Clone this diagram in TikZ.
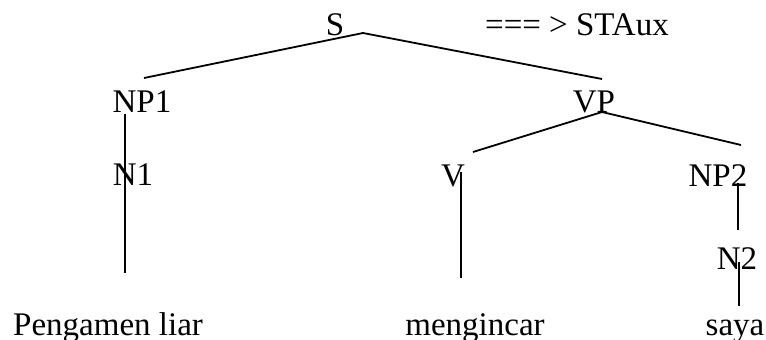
\documentclass[tikz,border=0pt]{standalone}
\usepackage{fontspec}
\setmainfont{Liberation Serif}
\usetikzlibrary{positioning}

\begin{document}
\begin{tikzpicture}[x=1pt,y=-1pt,
    lbl/.style={inner sep=0pt,anchor=base,font=\fontsize{33}{39}\selectfont},
    branch/.style={line width=1.8pt}]
    \useasboundingbox (0,0) rectangle (766,340);

    % Root and transformation label
    \node[lbl] (s) at (335,35) {S};
    \node[lbl,anchor=base east] (aux) at (669,35) {=== > STAux};

    % Phrases
    \node[lbl] (np1) at (142,112) {NP1};
    \node[lbl] (vp) at (594,112) {VP};
    \node[lbl] (n1) at (133,185) {N1};
    \node[lbl] (v) at (453,186) {V};
    \node[lbl] (np2) at (718,186) {NP2};
    \node[lbl] (n2) at (737,269) {N2};

    % Words
    \node[lbl,anchor=base west] (w1) at (13,335) {Pengamen liar};
    \node[lbl] (w2) at (475,335) {mengincar};
    \node[lbl] (w3) at (735,335) {saya};

    % Branch ends
    \coordinate (s-foot) at (363,33);
    \coordinate (np1-head) at (144,78);
    \coordinate (vp-head) at (602,79);
    \coordinate (vp-foot) at (602,112);
    \coordinate (v-head) at (473,152);
    \coordinate (np2-head) at (741,145);
    \coordinate (np1-foot) at (125,114);
    \coordinate (w1-head) at (125,273);
    \coordinate (v-foot) at (461,172);
    \coordinate (w2-head) at (461,278);
    \coordinate (np2-foot) at (738,183);
    \coordinate (n2-head) at (738,230);
    \coordinate (n2-foot) at (739,262);
    \coordinate (w3-head) at (739,306);

    \draw[branch] (np1-head) -- (s-foot) -- (vp-head);
    \draw[branch] (v-head) -- (vp-foot) -- (np2-head);
    \draw[branch] (np1-foot) -- (w1-head);
    \draw[branch] (v-foot) -- (w2-head);
    \draw[branch] (np2-foot) -- (n2-head);
    \draw[branch] (n2-foot) -- (w3-head);
\end{tikzpicture}
\end{document}
